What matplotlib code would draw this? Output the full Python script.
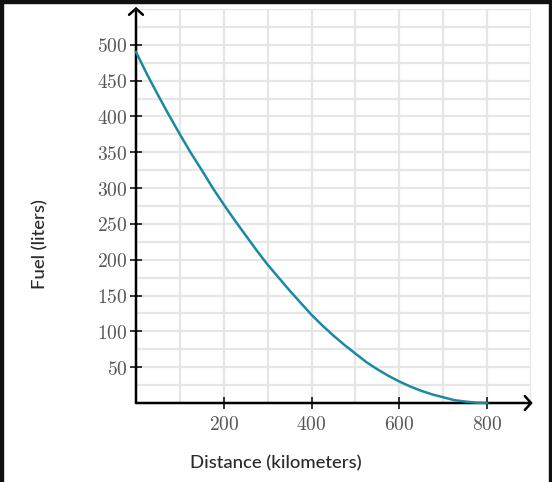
import matplotlib
matplotlib.use("Agg")
import matplotlib.pyplot as plt
from matplotlib.patches import Rectangle

# distance (km) and fuel left (liters)
distance = [0, 25, 50, 75, 100, 125, 150, 175, 200, 225, 250, 275, 300, 325,
            350, 375, 400, 425, 450, 475, 500, 525, 550, 575, 600, 625, 650,
            675, 700, 725, 750, 775, 800]
fuel = [490, 459, 430, 402, 375, 349, 325, 300, 277, 255, 234, 213, 193, 175,
        157, 140, 123, 108, 94, 81, 69, 57, 47, 38, 30, 23, 17,
        12, 8, 4, 2, 0.5, 0]

x_ticks = [200, 400, 600, 800]
y_ticks = [50, 100, 150, 200, 250, 300, 350, 400, 450, 500]
x_grid = [100, 200, 300, 400, 500, 600, 700, 800, 900]
y_grid = list(range(25, 551, 25))

plt.rcParams['mathtext.fontset'] = 'cm'

fig = plt.figure(figsize=(5.52, 4.82), dpi=100)
ax = fig.add_axes([136 / 552, 1 - 403 / 482, (531 - 136) / 552, (403 - 9) / 482])
ax.set_xlim(0, 900)
ax.set_ylim(0, 550)

# light grid
for gx in x_grid:
    ax.axvline(gx, color='#e6e6e6', lw=1.6, zorder=0)
for gy in y_grid:
    ax.axhline(gy, color='#e6e6e6', lw=1.6, zorder=0)

for s in ax.spines.values():
    s.set_visible(False)

# axes with arrow heads
arrow = dict(arrowstyle='->,head_length=0.45,head_width=0.5', color='black', lw=1.8,
             shrinkA=0, shrinkB=0)
ax.annotate('', xy=(0, 553), xytext=(0, 0), arrowprops=arrow, annotation_clip=False)
ax.annotate('', xy=(904, 0), xytext=(0, 0), arrowprops=arrow, annotation_clip=False)

ax.plot(distance, fuel, color='#1b8aa0', lw=1.8, zorder=3, clip_on=False)

ax.set_xticks(x_ticks)
ax.set_yticks(y_ticks)
ax.set_xticklabels([r'$%d$' % v for v in x_ticks])
ax.set_yticklabels([r'$%d$' % v for v in y_ticks])
ax.tick_params(axis='both', direction='inout', length=9, width=1.1, color='black',
               labelcolor='#555555', labelsize=14)
ax.tick_params(axis='y', pad=1.5)
ax.tick_params(axis='x', pad=4)

fig.text(276 / 552, 1 - 463 / 482, 'Distance (kilometers)', ha='center', va='center',
         family='Lato', fontsize=13.3, fontweight='medium', color='#2a2a2a')
fig.text(40 / 552, 1 - 244 / 482, 'Fuel (liters)', ha='center', va='center',
         rotation=90, family='Lato', fontsize=13.3, fontweight='medium', color='#2a2a2a')

# dark frame on left, top and right
fig.patches.append(Rectangle((0, 0), 3 / 552, 1, transform=fig.transFigure,
                             color='#111111', zorder=10))
fig.patches.append(Rectangle((0, 1 - 3 / 482), 1, 3 / 482, transform=fig.transFigure,
                             color='#111111', zorder=10))
fig.patches.append(Rectangle((1 - 3 / 552, 0), 3 / 552, 1, transform=fig.transFigure,
                             color='#111111', zorder=10))

fig.savefig('out.png', dpi=100)
